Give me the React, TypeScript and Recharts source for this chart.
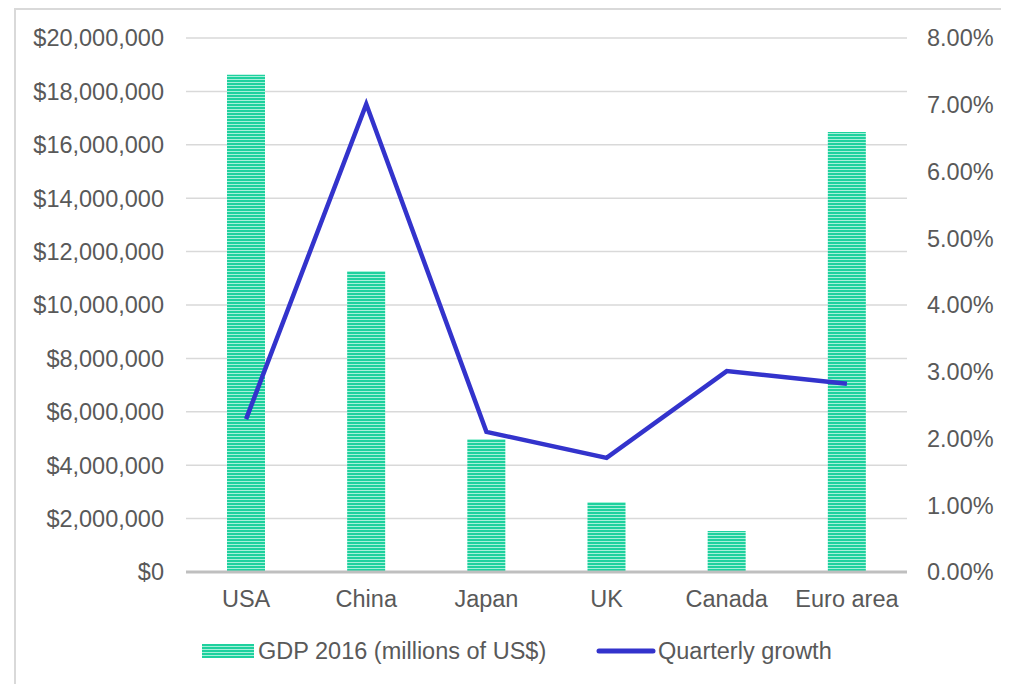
import React from 'react';
import { ComposedChart, Bar, Line, XAxis, YAxis, CartesianGrid, Legend } from 'recharts';

const countries = ['USA', 'China', 'Japan', 'UK', 'Canada', 'Euro area'];
const gdp2016 = [18620000, 11270000, 4980000, 2620000, 1540000, 16480000];
const quarterlyGrowth = [2.29, 7.01, 2.1, 1.71, 3.01, 2.82];
const gdpTicks = [0, 2000000, 4000000, 6000000, 8000000, 10000000, 12000000, 14000000, 16000000, 18000000, 20000000];
const growthTicks = [0, 1, 2, 3, 4, 5, 6, 7, 8];

const data = countries.map((c, i) => ({ name: c, gdp: gdp2016[i], growth: quarterlyGrowth[i] }));

const FONT = '"Liberation Sans", Arial, sans-serif';
const TEXT = '#595959';
const FS = 23.5;

const fmtMoney = (v: number) => '$' + v.toLocaleString('en-US');
const fmtPct = (v: number) => v.toFixed(2) + '%';

const LegendContent = () => (
  <div style={{ position: 'relative', width: 1001, height: 30, fontFamily: FONT, fontSize: FS, color: TEXT }}>
    <svg style={{ position: 'absolute', left: 194, top: 8 }} width={52} height={14}>
      <rect x={0} y={0} width={52} height={14} fill="url(#gdpStripes)" />
    </svg>
    <span style={{ position: 'absolute', left: 250, top: 0, lineHeight: '30px', whiteSpace: 'nowrap' }}>GDP 2016 (millions of US$)</span>
    <svg style={{ position: 'absolute', left: 588, top: 10 }} width={60} height={10}>
      <line x1={3} y1={5} x2={57} y2={5} stroke="#3333CC" strokeWidth={5} strokeLinecap="round" />
    </svg>
    <span style={{ position: 'absolute', left: 650, top: 0, lineHeight: '30px', whiteSpace: 'nowrap' }}>Quarterly growth</span>
  </div>
);

export default function App() {
  return (
    <div style={{ position: 'relative', width: 1001, height: 676 }}>
      <div style={{ position: 'absolute', left: 6, top: 0, width: 1010, height: 700, border: '2px solid #d9d9d9', boxSizing: 'border-box' }} />
      <div style={{ position: 'absolute', left: 0, top: 0 }}>
        <ComposedChart width={1001} height={676} data={data} margin={{ top: 30, right: 0, bottom: 18, left: 0 }} barCategoryGap={0}>
          <defs>
            <pattern id="gdpStripes" width={4} height={3} patternUnits="userSpaceOnUse">
              <rect x={0} y={0} width={4} height={3} fill="#1ED19E" />
              <rect x={0} y={2} width={4} height={1} fill="#A6F0D9" />
            </pattern>
          </defs>
          <CartesianGrid vertical={false} stroke="#d9d9d9" strokeWidth={1.5} yAxisId="left" />
          <XAxis
            dataKey="name"
            axisLine={{ stroke: '#bfbfbf', strokeWidth: 3 }}
            tickLine={false}
            tickSize={0}
            tickMargin={18}
            height={64}
            tick={{ fill: TEXT, fontSize: FS, fontFamily: FONT }}
            interval={0}
          />
          <YAxis
            yAxisId="left"
            orientation="left"
            width={178}
            domain={[0, 20000000]}
            ticks={gdpTicks}
            tickFormatter={fmtMoney}
            axisLine={false}
            tickLine={false}
            tickSize={0}
            tickMargin={22}
            tick={{ fill: TEXT, fontSize: FS, fontFamily: FONT }}
            interval={0}
          />
          <YAxis
            yAxisId="right"
            orientation="right"
            width={102}
            domain={[0, 8]}
            ticks={growthTicks}
            tickFormatter={fmtPct}
            axisLine={false}
            tickLine={false}
            tickSize={0}
            tickMargin={20}
            tick={{ fill: TEXT, fontSize: FS, fontFamily: FONT }}
            interval={0}
          />
          <Bar yAxisId="left" dataKey="gdp" barSize={38} fill="url(#gdpStripes)" isAnimationActive={false} />
          <Line
            yAxisId="right"
            dataKey="growth"
            type="linear"
            stroke="#3333CC"
            strokeWidth={4.5}
            dot={false}
            activeDot={false}
            isAnimationActive={false}
          />
          <Legend verticalAlign="bottom" height={30} content={<LegendContent />} wrapperStyle={{ left: 0, width: 1001 }} />
        </ComposedChart>
      </div>
    </div>
  );
}
